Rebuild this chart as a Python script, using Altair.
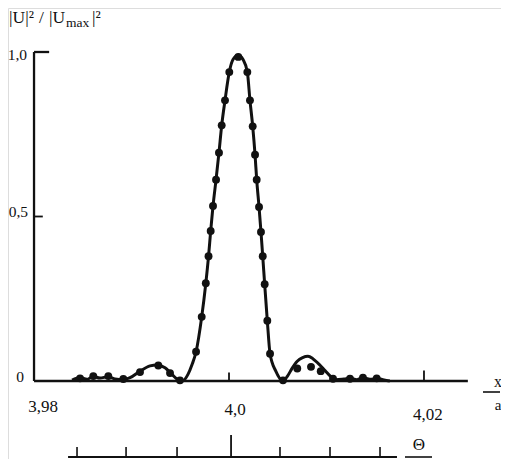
import altair as alt
import pandas as pd

# ---- data ----
curve_x = [3.98390, 3.98472, 3.98544, 3.98605, 3.98677, 3.98759, 3.98831, 3.98913, 3.98985,
           3.99087, 3.99190, 3.99262, 3.99344, 3.99415, 3.99477, 3.99528, 3.99579, 3.99621,
           3.99662, 3.99720, 3.99762, 3.99790, 3.99812, 3.99836, 3.99867, 3.99897, 3.99925,
           3.99959, 4.00003, 4.00041, 4.00095, 4.00144, 4.00188, 4.00215, 4.00243, 4.00267,
           4.00284, 4.00308, 4.00328, 4.00346, 4.00366, 4.00393, 4.00421, 4.00480, 4.00554,
           4.00600, 4.00650, 4.00700, 4.00755, 4.00810, 4.00860, 4.00920, 4.00985, 4.01046,
           4.01097, 4.01180, 4.01241, 4.01313, 4.01374, 4.01446, 4.01515, 4.01590, 4.01650]
curve_y = [0.003, 0.010, 0.005, 0.014, 0.009, 0.013, 0.006, 0.004, 0.010,
           0.030, 0.046, 0.049, 0.040, 0.020, 0.004, 0.001, 0.020, 0.050,
           0.089, 0.195, 0.297, 0.379, 0.456, 0.532, 0.612, 0.694, 0.777,
           0.853, 0.939, 0.977, 0.990, 0.977, 0.939, 0.853, 0.774, 0.688,
           0.612, 0.529, 0.453, 0.379, 0.294, 0.183, 0.083, 0.030, 0.000,
           0.015, 0.040, 0.060, 0.071, 0.075, 0.068, 0.052, 0.032, 0.013,
           0.004, 0.006, 0.008, 0.004, 0.010, 0.005, 0.008, 0.003, 0.000]

dots_x = [3.98472, 3.98608, 3.98762, 3.98916, 3.99087, 3.99275, 3.99395, 3.99497,
          3.99662, 3.99720, 3.99762, 3.99790, 3.99812, 3.99836, 3.99867, 3.99897, 3.99925,
          3.99959, 4.00003, 4.00095, 4.00188, 4.00215, 4.00243, 4.00267, 4.00284, 4.00308,
          4.00328, 4.00346, 4.00366, 4.00393, 4.00421, 4.00554,
          4.00700, 4.00841, 4.00941, 4.01067, 4.01241, 4.01374, 4.01515]
dots_y = [0.008, 0.015, 0.015, 0.006, 0.027, 0.047, 0.024, 0.002,
          0.089, 0.195, 0.297, 0.379, 0.456, 0.532, 0.612, 0.694, 0.777,
          0.853, 0.939, 0.985, 0.939, 0.853, 0.774, 0.688, 0.612, 0.529,
          0.453, 0.379, 0.294, 0.183, 0.083, 0.002,
          0.038, 0.043, 0.030, 0.007, 0.007, 0.010, 0.008]

y_ticks = [0.0, 0.5, 1.0]
y_labels = ["0", "0,5", "1,0"]
x_ticks = [3.98, 4.0, 4.02]
x_labels = ["3,98", "4,0", "4,02"]
theta_minor = [3.98441, 3.98944, 3.99467, 4.00523, 4.01036, 4.01549]
theta_major = [4.00021]

# ---- layout ----
X_DOM = [3.97733, 4.02790]
Y_DOM = [-0.23708, 1.13374]
xs = alt.Scale(domain=X_DOM, nice=False, zero=False)
ys = alt.Scale(domain=Y_DOM, nice=False, zero=False)
FONT = "Liberation Serif"
INK = "#111111"

def X(f="x"):
    return alt.X(f"{f}:Q", scale=xs, axis=None)

def Y(f="y"):
    return alt.Y(f"{f}:Q", scale=ys, axis=None)

curve = alt.Chart(pd.DataFrame({"x": curve_x, "y": curve_y})).mark_line(
    color=INK, strokeWidth=3, interpolate="monotone").encode(x=X(), y=Y())

dots = alt.Chart(pd.DataFrame({"x": dots_x, "y": dots_y})).mark_circle(
    color=INK, opacity=1, size=62).encode(x=X(), y=Y())

# y axis line and ticks
yaxis = alt.Chart(pd.DataFrame({"x": [x_ticks[0]], "y": [0.0], "y2": [1.0]})).mark_rule(
    color=INK, strokeWidth=2.3).encode(x=X(), y=Y(), y2="y2:Q")
ytick_top = alt.Chart(pd.DataFrame({"x": [x_ticks[0]], "x2": [x_ticks[0] + 0.00155], "y": [1.0]})).mark_rule(
    color=INK, strokeWidth=2.3).encode(x=X(), x2="x2:Q", y=Y())
ytick_mid = alt.Chart(pd.DataFrame({"x": [x_ticks[0]], "x2": [x_ticks[0] + 0.0009], "y": [0.5]})).mark_rule(
    color=INK, strokeWidth=1.8).encode(x=X(), x2="x2:Q", y=Y())

# x axis line and ticks
xaxis = alt.Chart(pd.DataFrame({"x": [x_ticks[0]], "x2": [4.0245], "y": [0.0]})).mark_rule(
    color=INK, strokeWidth=2.3).encode(x=X(), x2="x2:Q", y=Y())
xt = alt.Chart(pd.DataFrame({"x": x_ticks[1:], "y": [0.0, 0.0], "y2": [0.026, 0.032]})).mark_rule(
    color=INK, strokeWidth=1.8).encode(x=X(), y=Y(), y2="y2:Q")

layers = [curve, dots, yaxis, ytick_top, ytick_mid, xaxis, xt]

# y tick labels (right-aligned so they stay inside the page)
y_off = {"0": (-10, -4), "0,5": (-6, -5), "1,0": (-7, 3)}
for v, lab in zip(y_ticks, y_labels):
    dx, dy = y_off[lab]
    layers.append(alt.Chart(pd.DataFrame({"x": [x_ticks[0]], "y": [v], "t": [lab]})).mark_text(
        font=FONT, fontSize=15.5, color=INK, align="right", baseline="middle", dx=dx, dy=dy
    ).encode(x=X(), y=Y(), text="t:N"))

# x tick labels
x_off = {"3,98": (9, 26), "4,0": (6, 29), "4,02": (4, 34)}
for v, lab in zip(x_ticks, x_labels):
    dx, dy = x_off[lab]
    layers.append(alt.Chart(pd.DataFrame({"x": [v], "y": [0.0], "t": [lab]})).mark_text(
        font=FONT, fontSize=17, color=INK, align="center", baseline="middle", dx=dx, dy=dy
    ).encode(x=X(), y=Y(), text="t:N"))

# Theta axis
theta_line = alt.Chart(pd.DataFrame({"x": [3.98349], "x2": [4.01723]})).mark_rule(
    color=INK, strokeWidth=2).encode(x=X(), x2="x2:Q", y=alt.value(449))
theta_min = alt.Chart(pd.DataFrame({"x": theta_minor})).mark_rule(
    color=INK, strokeWidth=1.6).encode(x=X(), y=alt.value(439), y2=alt.value(449))
theta_maj = alt.Chart(pd.DataFrame({"x": theta_major})).mark_rule(
    color=INK, strokeWidth=1.8).encode(x=X(), y=alt.value(427), y2=alt.value(449))
layers += [theta_line, theta_min, theta_maj]

def label(text, x, y, size, baseline="middle", align="center"):
    return alt.Chart(pd.DataFrame({"t": [text]})).mark_text(
        font=FONT, fontSize=size, color=INK, align=align, baseline=baseline
    ).encode(x=alt.value(x), y=alt.value(y), text="t:N")

def bar(x1, x2, y):
    return alt.Chart(pd.DataFrame({"a": [0]})).mark_rule(color=INK, strokeWidth=1.6).encode(
        x=alt.value(x1), x2=alt.value(x2), y=alt.value(y))

layers += [
    label("Θ", 411, 437, 17),
    bar(397, 424, 449),
    label("x", 490, 374, 16),
    bar(475, 492, 384),
    label("a", 490, 397, 15),
    # y-axis title |U|²/|U_max|²
    label("|U|²", 1, 15, 17.5, baseline="alphabetic", align="left"),
    label("/", 31, 15, 17.5, baseline="alphabetic", align="left"),
    label("|U", 41, 15, 17.5, baseline="alphabetic", align="left"),
    label("max", 58, 19, 13.5, baseline="alphabetic", align="left"),
    label("|²", 84, 15, 17.5, baseline="alphabetic", align="left"),
]

chart = alt.layer(*layers).properties(
    width=493, height=451,
    autosize=alt.AutoSizeParams(type="none"),
    padding=0,
).configure_view(stroke=None).configure(background="white")

chart.save("out.html", embed_options={"renderer": "svg", "actions": False})
